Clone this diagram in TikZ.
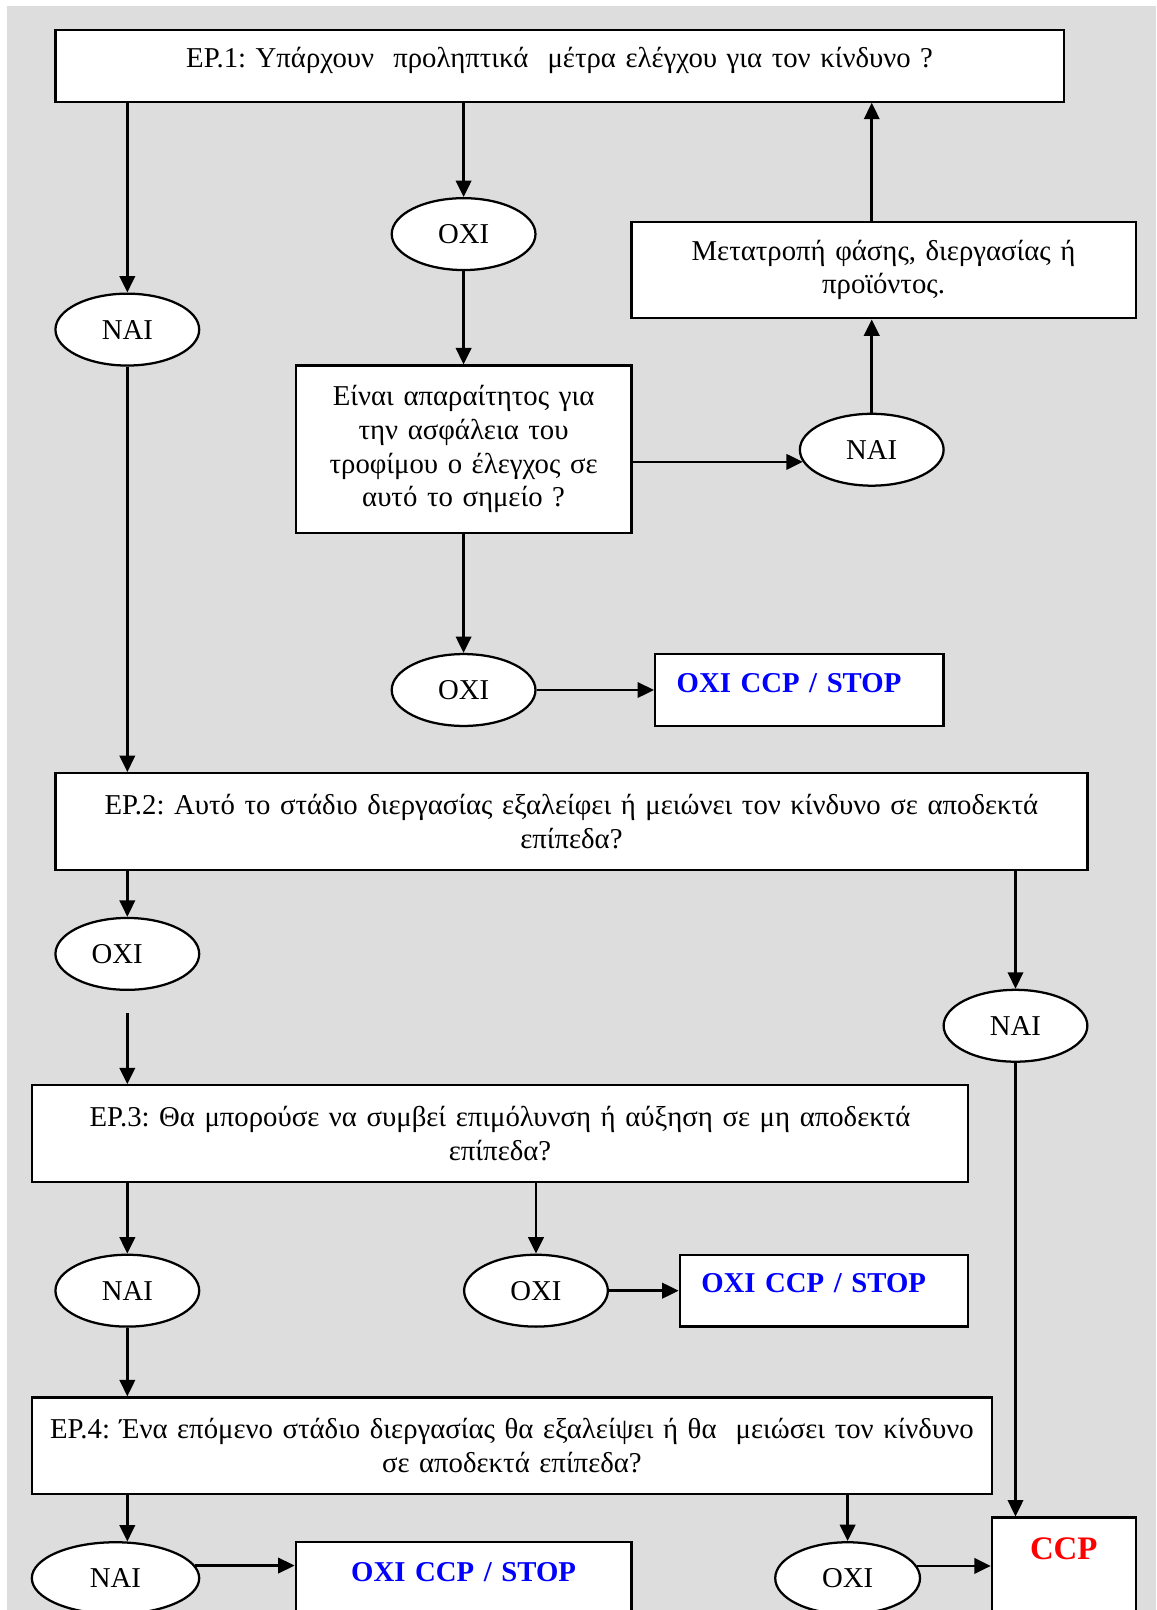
\documentclass[tikz,border=0pt]{standalone}
\usepackage{fontspec}
\setmainfont{Liberation Serif}
\usetikzlibrary{shapes.geometric,arrows.meta,calc}
\definecolor{bggray}{RGB}{221,221,221}
\definecolor{stopblue}{RGB}{0,0,255}
\definecolor{ccpred}{RGB}{255,0,0}
\begin{document}
\frenchspacing
\begin{tikzpicture}[x=0.5pt,y=-0.5pt,
  base/.style={font=\fontsize{14pt}{16.35pt}\selectfont\frenchspacing},
  box/.style={base,draw,line width=1.1pt,fill=white,inner sep=0pt,align=center},
  onebox/.style={box,text height=18.5pt,text depth=16.5pt},
  stopbox/.style={onebox,inner xsep=10.5pt,align=left},
  ell/.style={base,ellipse,draw,line width=1.1pt,fill=white,inner sep=0pt,minimum width=70pt,minimum height=35pt},
  arr/.style={line width=1.3pt,-{Triangle[length=8pt,width=7.5pt]}}
]
\useasboundingbox (0,0) rectangle (1126,1568);
\clip (0,0) rectangle (1126,1568);
\fill[bggray] (7,6) rectangle (1126,1568);

% boxes
\node[onebox,text width=491pt] (ep1) at (545,64) {ΕΡ.1: Υπάρχουν\ \ προληπτικά\ \ μέτρα ελέγχου για τον κίνδυνο ?};
\node[box,text width=163.5pt,minimum height=81.5pt] (einai) at (451.5,437.5) {Είναι απαραίτητος για\\την ασφάλεια του\\τροφίμου ο έλεγχος σε\\αυτό το σημείο ?};
\node[box,text width=245.5pt,minimum height=47pt] (meta) at (860.5,263) {Μετατροπή φάσης, διεργασίας ή\\προϊόντος.};
\node[stopbox,text width=119.5pt] (stop1) at (778.5,672) {\color{stopblue}\bfseries ΟΧΙ CCP / STOP};
\node[box,text width=502.5pt,minimum height=47pt] (ep2) at (556.5,800) {ΕΡ.2: Αυτό το στάδιο διεργασίας εξαλείφει ή μειώνει τον κίνδυνο σε αποδεκτά\\επίπεδα?};
\node[box,text width=456pt,minimum height=47pt] (ep3) at (487,1104) {ΕΡ.3: Θα μπορούσε να συμβεί επιμόλυνση ή αύξηση σε μη αποδεκτά\\επίπεδα?};
\node[stopbox,text width=119.5pt] (stop2) at (802.5,1257) {\color{stopblue}\bfseries ΟΧΙ CCP / STOP};
\node[box,text width=467.5pt,minimum height=47pt] (ep4) at (498.5,1408) {ΕΡ.4: Ένα επόμενο στάδιο διεργασίας θα εξαλείψει ή θα\ \ μειώσει τον κίνδυνο\\σε αποδεκτά επίπεδα?};
\node[box,text width=163.5pt,text height=19pt,text depth=16pt] (stop3) at (451.5,1537) {\color{stopblue}\bfseries ΟΧΙ CCP / STOP};
\node[box,text width=70pt,text height=20.25pt,text depth=39.75pt] (ccp) at (1036,1538) {\fontsize{16pt}{18pt}\selectfont\color{ccpred}\bfseries CCP};

% ellipses
\node[ell] (oxi1) at (451.5,228) {ΟΧΙ};
\node[ell] (nai1) at (124,321) {ΝΑΙ};
\node[ell] (nai2) at (849,438) {ΝΑΙ};
\node[ell] (oxi2) at (451.5,672) {ΟΧΙ};
\node[ell] (oxi3) at (124,929) {ΟΧΙ\kern10pt};
\node[ell] (nai4) at (989,999) {ΝΑΙ};
\node[ell] (nai5) at (124,1257) {ΝΑΙ};
\node[ell] (oxi5) at (522,1257) {ΟΧΙ};
\node[ell,minimum width=81.5pt] (nai6) at (112.5,1537) {ΝΑΙ};
\node[ell,minimum width=70.5pt] (oxi6) at (825.5,1537) {ΟΧΙ};

\coordinate (c1) at (124,987);

% connectors
\draw[arr] (ep1.south -| nai1.north) -- (nai1.north);
\draw[arr] (ep1.south -| oxi1.north) -- (oxi1.north);
\draw[arr] (oxi1.south) -- (einai.north -| oxi1.south);
\draw[arr] (einai.east |- nai2.190) -- (nai2.190);
\draw[arr] (nai2.north) -- (meta.south -| nai2.north);
\draw[arr] (meta.north -| nai2.north) -- (ep1.south -| nai2.north);
\draw[arr] (einai.south -| oxi2.north) -- (oxi2.north);
\draw[arr] (oxi2.east) -- (stop1.west);
\draw[arr] (nai1.south) -- (ep2.north -| nai1.south);
\draw[arr] (ep2.south -| oxi3.north) -- (oxi3.north);
\draw[arr] (c1) -- (ep3.north -| c1);
\draw[arr] (ep2.south -| nai4.north) -- (nai4.north);
\draw[arr] (nai4.south) -- (ccp.north -| nai4.south);
\draw[arr] (ep3.south -| nai5.north) -- (nai5.north);
\draw[arr] (ep3.south -| oxi5.north) -- (oxi5.north);
\draw[arr] (oxi5.east) -- (stop2.west);
\draw[arr] (nai5.south) -- (ep4.north -| nai5.south);
\draw[arr] (ep4.south -| nai1.south) -- ([xshift=5.75pt,yshift=-0.2pt]nai6.north);
\draw[arr] (ep4.south -| oxi6.north) -- (oxi6.north);
\draw[arr] (nai6.9) -- (stop3.west |- nai6.9);
\draw[arr] (oxi6.10) -- (ccp.west |- oxi6.10);
\end{tikzpicture}
\end{document}
